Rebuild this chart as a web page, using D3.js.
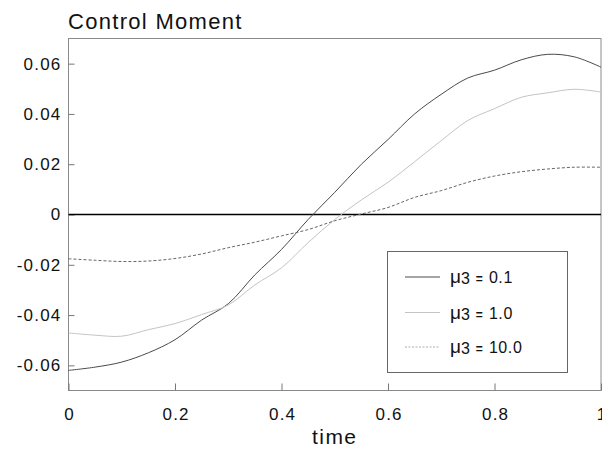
<!DOCTYPE html>
<html>
<head>
<meta charset="utf-8">
<script src="https://cdn.jsdelivr.net/npm/d3@7"></script>
<style>
  body { margin: 0; background: #fff; }
  svg { display: block; font-family: "Liberation Sans", Arial, sans-serif; }
</style>
</head>
<body>
<svg id="chart" width="602" height="450"></svg>
<script>
// values
const time = [0, 0.05, 0.1, 0.15, 0.2, 0.25, 0.3, 0.35, 0.4, 0.45, 0.5,
              0.55, 0.6, 0.65, 0.7, 0.75, 0.8, 0.85, 0.9, 0.95, 1.0];
const mu01 = [-0.0620, -0.0607, -0.0587, -0.0550, -0.0498, -0.0420, -0.0355, -0.0240, -0.0139, -0.0020, 0.0088,
              0.0200, 0.0298, 0.0400, 0.0478, 0.0543, 0.0574, 0.0615, 0.0637, 0.0627, 0.0586];
const mu1  = [-0.0471, -0.0480, -0.0484, -0.0458, -0.0434, -0.0398, -0.0360, -0.0280, -0.0212, -0.0112, -0.0020,
              0.0058, 0.0128, 0.0210, 0.0294, 0.0374, 0.0421, 0.0466, 0.0484, 0.0498, 0.0487];
const mu10 = [-0.0176, -0.0182, -0.0187, -0.0185, -0.0175, -0.0157, -0.0132, -0.0110, -0.0085, -0.0060, -0.0025,
              0.0002, 0.0028, 0.0068, 0.0095, 0.0128, 0.0153, 0.0170, 0.0181, 0.0188, 0.0188];

const seriesLabels = ["0.1", "1.0", "10.0"];
const yTicks = [-0.06, -0.04, -0.02, 0, 0.02, 0.04, 0.06];
const yTickLabels = ["-0.06", "-0.04", "-0.02", "0", "0.02", "0.04", "0.06"];
const xTicks = [0, 0.2, 0.4, 0.6, 0.8, 1];
const xTickLabels = ["0", "0.2", "0.4", "0.6", "0.8", "1"];

const x = d3.scaleLinear().domain([0, 1]).range([68.5, 601]);
const y = d3.scaleLinear().domain([-0.07, 0.07]).range([390.5, 38.5]);

const svg = d3.select("#chart");

const styles = [
    { stroke: "#4a4a4a", dash: null, width: 1 },
    { stroke: "#c4c4c4", dash: null, width: 1 },
    { stroke: "#666", dash: "3,2", width: 1 }
];

// frame
svg.append("rect")
    .attr("x", 68.5).attr("y", 38.5)
    .attr("width", 601 - 68.5).attr("height", 390.5 - 38.5)
    .attr("fill", "none")
    .attr("stroke", "#8a8a8a")
    .attr("stroke-width", 1);

// y axis, ticks pointing in
const yAxis = svg.append("g")
    .attr("transform", "translate(68.5,0)")
    .call(d3.axisLeft(y).tickValues(yTicks)
        .tickFormat((d, i) => yTickLabels[i])
        .tickSize(-6).tickPadding(7));

// x axis
const xAxis = svg.append("g")
    .attr("transform", "translate(0,390.5)")
    .call(d3.axisBottom(x).tickValues(xTicks)
        .tickFormat((d, i) => xTickLabels[i])
        .tickSize(-7).tickPadding(17));

[yAxis, xAxis].forEach(g => {
    g.select(".domain").remove();
    g.selectAll(".tick line").attr("stroke", "#777");
    g.selectAll(".tick text")
        .attr("fill", "#111")
        .style("font-size", "17px")
        .style("letter-spacing", "1.2px")
        .style("font-family", "'Liberation Sans', Arial, sans-serif");
});
xAxis.selectAll(".tick text").attr("dx", "0.6px");

// zero line
svg.append("line")
    .attr("x1", x(0)).attr("x2", x(1))
    .attr("y1", y(0)).attr("y2", y(0))
    .attr("stroke", "#000")
    .attr("stroke-width", 1.6);

const line = d3.line()
    .x((d, i) => x(time[i]))
    .y(d => y(d))
    .curve(d3.curveCatmullRom.alpha(0.5));

[mu01, mu1, mu10].forEach((s, k) => {
    svg.append("path")
        .datum(s)
        .attr("d", line)
        .attr("fill", "none")
        .attr("stroke", styles[k].stroke)
        .attr("stroke-width", styles[k].width)
        .attr("stroke-dasharray", styles[k].dash);
});

// title and axis label
svg.append("text")
    .attr("x", 68).attr("y", 29)
    .style("font-size", "22px")
    .style("letter-spacing", "1.3px")
    .attr("fill", "#111")
    .text("Control Moment");

svg.append("text")
    .attr("x", (x(0) + x(1)) / 2).attr("y", 444)
    .attr("text-anchor", "middle")
    .style("font-size", "21px")
    .style("letter-spacing", "1.4px")
    .attr("fill", "#111")
    .text("time");

// legend
const legend = svg.append("g");
legend.append("rect")
    .attr("x", 387.5).attr("y", 251.5)
    .attr("width", 180).attr("height", 121)
    .attr("fill", "#fff")
    .attr("stroke", "#666")
    .attr("stroke-width", 1);

const legendY = [277, 312.5, 347];
const legendStyles = [
    { stroke: "#4a4a4a", dash: null },
    { stroke: "#c4c4c4", dash: null },
    { stroke: "#aaa", dash: "2,1.5" }
];
seriesLabels.forEach((lab, k) => {
    legend.append("line")
        .attr("x1", 405).attr("x2", 440)
        .attr("y1", legendY[k]).attr("y2", legendY[k])
        .attr("stroke", legendStyles[k].stroke)
        .attr("stroke-dasharray", legendStyles[k].dash);
    const t = legend.append("text")
        .attr("x", 450).attr("y", legendY[k] + 6)
        .attr("fill", "#111")
        .style("font-size", "16px");
    t.append("tspan").style("font-size", "19px").text("\u03bc");
    t.append("tspan").attr("dy", 1).style("font-size", "16px").text("3");
    t.append("tspan").attr("dy", -1).attr("dx", 6).style("font-size", "12px").style("font-weight", "bold").text("=");
    t.append("tspan").attr("dx", 6).style("letter-spacing", "0.6px").text(lab);
});
</script>
</body>
</html>
